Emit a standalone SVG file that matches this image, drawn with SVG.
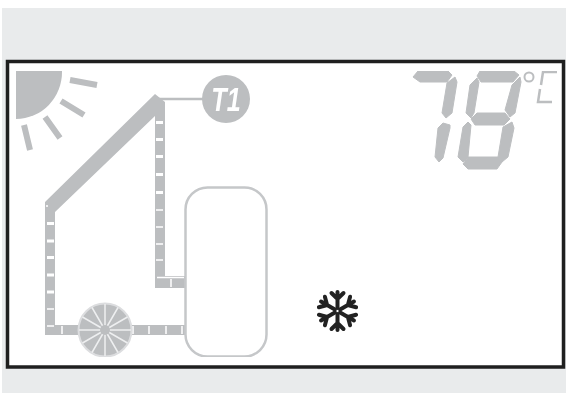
<svg xmlns="http://www.w3.org/2000/svg" width="566" height="393" viewBox="0 0 566 393">
<defs><style>
.g{fill:#bcbec0}
.tick{stroke:#fff;stroke-linecap:butt;fill:none}
.ray{stroke:#bcbec0;stroke-width:6;fill:none}
.flake{stroke:#222;fill:none;stroke-linecap:round}
</style>
<filter id="soft" x="0" y="0" width="100%" height="100%"><feGaussianBlur stdDeviation="0.5"/></filter>
<g id="arm"><path d="M0 -3V-19M-6 -18L0 -12L6 -18"/></g>
</defs>
<rect width="566" height="393" fill="#fff"/>
<rect x="2" y="8" width="564" height="385" fill="#e9ebec"/>
<rect x="7.500" y="61.500" width="556" height="305.500" fill="#fff" stroke="#1f1f1f" stroke-width="3.500"/>
<g filter="url(#soft)">
<g id="sun">
<path class="g" d="M16 71H62A46 47 0 0 1 16 119Z"/>
<path class="ray" d="M70 80L97 85M61 101L84 115M45 117L60 138M24 125L30 150"/>
</g>
<g id="connectors">
<path class="g" d="M45 202L155 94L165 102V276H185V288H155V116L55 212V325H80V335H45Z"/>
<path class="g" d="M130 325H185V335H130Z"/>
<path d="M155 99H204" stroke="#bcbec0" stroke-width="2.500" fill="none"/>
<path class="tick" stroke-width="3" d="M47 223.500H54M47 241H54M47 257.500H54M47 275H54M47 292H54"/>
<path class="tick" stroke-width="1.500" d="M47 309H54M47 326H54M47 205V207"/>
<path class="tick" stroke-width="3" d="M156 122.500H163M156 139.500H163M156 156.500H163M156 174.500H163M156 192.500H163"/>
<path class="tick" stroke-width="1.500" d="M156 210H163M156 227H163M156 244H163M156 260H163"/>
<path class="tick" stroke-width="1.500" d="M62 326V334M133 326V334M149 326V334M166 326V334M182 326V334M171 279V287M157 277.500H184"/>
</g>
<g id="t1">
<circle class="g" cx="226" cy="99" r="24"/>
<text transform="translate(226 110.500) scale(.74 1)" text-anchor="middle" font-family="Liberation Sans, sans-serif" font-size="34" font-weight="700" font-style="italic" fill="#fff">T1</text>
</g>
<g id="tank"><rect x="185.500" y="187.500" width="81" height="169" rx="22" fill="#fff" stroke="#c5c7c9" stroke-width="2.500"/></g>
<g id="pump">
<circle cx="105" cy="330" r="26.500" fill="#bcbec0" stroke="#dcdddf" stroke-width="2"/>
<path stroke="#eeeff0" stroke-width="1.500" fill="none" d="M105 304V356M79 330H131M92 307.500L118 352.500M118 307.500L92 352.500M82.500 317L127.500 343M127.500 317L82.500 343"/>
<circle cx="105" cy="330" r="5" fill="#bcbec0"/>
</g>
<g id="display" class="g" stroke="#bcbec0" stroke-width="1">
<path d="M413 77L418 71H448L452 75L447 82H420Z"/>
<path d="M455 77L457 82L452 113L446 118L442 113L447 83Z"/>
<path d="M443 123L450 125L450 128L443 158L439 162L435 157L438 128Z"/>
<path d="M480 71H514L519 75L513 82H481L477 76Z"/>
<path d="M477 78L479 82L474 113L471 118L466 113L470 85Z"/>
<path d="M520 77L521 82L515 113L510 117L505 110L512 85Z"/>
<path d="M471 119L477 113H505L510 119L504 125H475Z"/>
<path d="M468 122L471 125L468 157L463 162L458 157L463 127Z"/>
<path d="M512 122L514 128L508 157L502 162L498 157L503 127Z"/>
<path d="M463 164L468 157H498L502 162L497 169H468Z"/>
</g>
<g id="unit">
<circle cx="529" cy="77" r="4.500" fill="none" stroke="#bcbec0" stroke-width="2"/>
<path d="M557 72H543L541 85M540 89L538 102H552" fill="none" stroke="#bcbec0" stroke-width="2.500"/>
</g>
<g id="snowflake" class="flake" stroke-width="4">
<use href="#arm" transform="translate(337.500 311)"/>
<use href="#arm" transform="translate(337.500 311) rotate(60)"/>
<use href="#arm" transform="translate(337.500 311) rotate(120)"/>
<use href="#arm" transform="translate(337.500 311) rotate(180)"/>
<use href="#arm" transform="translate(337.500 311) rotate(240)"/>
<use href="#arm" transform="translate(337.500 311) rotate(300)"/>
</g>
</g>
</svg>
